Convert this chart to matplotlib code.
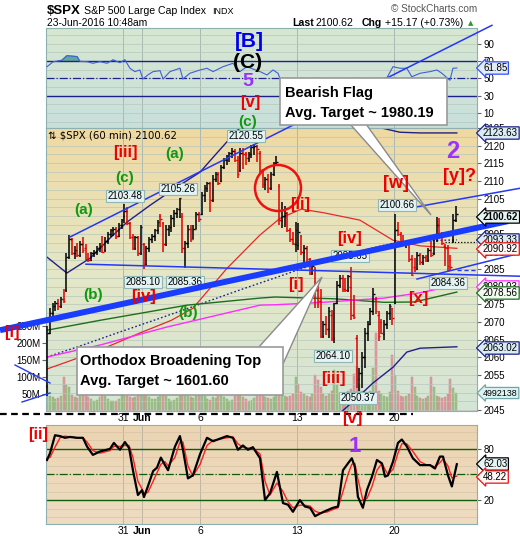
import numpy as np
import matplotlib
matplotlib.use("Agg")
import matplotlib.pyplot as plt
from matplotlib.colors import LinearSegmentedColormap
from matplotlib.lines import Line2D
from matplotlib.patches import Polygon, Rectangle, Ellipse
from matplotlib.ticker import MultipleLocator, FuncFormatter

plt.rcParams["font.family"] = ["Liberation Sans", "DejaVu Sans"]

W, H = 520, 540

# ---- hourly OHLC, 24-May-2016 .. 23-Jun-2016 10:48 (7 bars per session) ----
opens = [2052, 2067, 2072.5, 2074.5, 2075.5, 2074.5, 2076.5,
         2079, 2088.5, 2093.5, 2089.5, 2090.5, 2089, 2092,
         2091, 2088, 2087.5, 2089.5, 2090, 2091, 2091.5,
         2090.5, 2093, 2095, 2096, 2096.5, 2094.5, 2097.5,
         2100, 2101.5, 2098, 2094, 2091, 2094, 2089.5,
         2092, 2086.5, 2091, 2093.5, 2094.5, 2096, 2100,
         2098, 2092, 2096.5, 2097, 2099.5, 2101, 2102,
         2100, 2091, 2092.5, 2096.5, 2093.5, 2096.5, 2100.5,
         2100.5, 2106, 2108, 2109.5, 2104.5, 2110.5, 2112,
         2110, 2114, 2116, 2117, 2117.8, 2118.5, 2116,
         2113, 2118, 2117.5, 2116.5, 2117.5, 2119.5, 2120,
         2118, 2113, 2109, 2110.5, 2108, 2112, 2115,
         2108.5, 2099, 2100, 2101, 2096, 2093.5, 2092,
         2091.8, 2094.5, 2090, 2091, 2088, 2084, 2085,
         2079, 2076, 2066, 2069.5, 2068, 2072, 2065.5,
         2075.5, 2080.5, 2082.5, 2079.5, 2079, 2080, 2072,
         2065.5, 2054, 2055.5, 2060, 2067, 2069.5, 2073,
         2076.5, 2072, 2070, 2066.5, 2069.5, 2072.5, 2074,
         2075.5, 2096, 2095, 2092.5, 2092, 2092.3, 2088,
         2085.5, 2085, 2089, 2087, 2088.5, 2087.5, 2090.5,
         2089.5, 2094, 2097.5, 2095, 2091.5, 2091, 2087.5,
         2093, 2099]
highs = [2069, 2074, 2075.5, 2076, 2076.5, 2077, 2079.5,
         2089.5, 2094.7, 2093.8, 2091.5, 2092.5, 2093, 2094,
         2092, 2089.5, 2090, 2090.5, 2091.5, 2092.5, 2094.3,
         2094, 2095.5, 2096.5, 2097, 2097, 2098, 2099.1,
         2103.5, 2102.5, 2098.5, 2095, 2094.5, 2094.5, 2097.5,
         2092.5, 2091.5, 2094, 2095, 2096.5, 2099, 2100.5,
         2098.5, 2097.5, 2097.5, 2100.3, 2101.8, 2102.3, 2105.3,
         2101, 2093, 2097.5, 2097.5, 2097.5, 2101.3, 2101.3,
         2107, 2108.9, 2109.8, 2109.8, 2111.7, 2112.6, 2112.6,
         2114.5, 2116.4, 2117.3, 2118.3, 2119.2, 2119, 2117,
         2119.2, 2119.2, 2118.3, 2118.3, 2120.2, 2120.55, 2120.2,
         2118.5, 2113.5, 2111, 2112, 2112.5, 2115.5, 2117.2,
         2109, 2104, 2103, 2101.3, 2096.6, 2095.6, 2098.5,
         2098, 2094.7, 2091.8, 2091.5, 2088.1, 2087, 2085.5,
         2081.5, 2079.5, 2070.2, 2071.6, 2074.4, 2073.5, 2075.3,
         2081.5, 2083.4, 2083.4, 2082.5, 2083.4, 2085.65, 2077.7,
         2066.4, 2056.9, 2061.6, 2068.3, 2070.2, 2074, 2079.6,
         2077, 2073, 2070.8, 2070.5, 2073, 2075, 2074,
         2100.66, 2098.5, 2095.6, 2094.6, 2092.8, 2092.8, 2089,
         2088.1, 2090, 2089.5, 2089.1, 2089, 2090.9, 2093,
         2094.6, 2099.7, 2099.4, 2095.6, 2092, 2091.8, 2089,
         2100.5, 2102.8]
lows = [2049, 2066.5, 2071.5, 2073, 2073.5, 2074, 2075.5,
        2078.5, 2088, 2089, 2088, 2088.5, 2088.5, 2089.5,
        2087.5, 2087.1, 2087.3, 2088.5, 2089, 2090, 2089.5,
        2090, 2092, 2094, 2094.5, 2093.5, 2094, 2096.5,
        2098, 2097.5, 2093.5, 2090.5, 2090.5, 2088.7, 2089,
        2085.1, 2086, 2090, 2092.5, 2093, 2095, 2097,
        2090, 2091.5, 2094.5, 2095.5, 2097, 2099.4, 2099.4,
        2089.5, 2085.4, 2091, 2092.8, 2093.5, 2096.5, 2098.4,
        2100.3, 2104.1, 2107, 2101.3, 2104, 2109.8, 2108.8,
        2109.8, 2113.5, 2114.5, 2115.5, 2116.4, 2115.5, 2110.7,
        2112.5, 2113.5, 2114.5, 2115.5, 2116.4, 2117.3, 2115.5,
        2112, 2108, 2107.5, 2106.5, 2107.5, 2111.5, 2114.5,
        2097.5, 2096.6, 2097, 2095.6, 2092.8, 2091.8, 2090,
        2090.5, 2089, 2085.2, 2085.5, 2083.4, 2083.4, 2074,
        2074, 2065.4, 2065.5, 2066.3, 2065.4, 2064.5, 2064.1,
        2075, 2079.6, 2078.6, 2078.6, 2078.6, 2070.5, 2071,
        2051.3, 2050.37, 2051.3, 2057, 2064.5, 2069.2, 2072,
        2072.4, 2064.5, 2066.5, 2065, 2068, 2070.5, 2069.2,
        2075, 2094.5, 2091.8, 2091.8, 2090.9, 2087.1, 2083,
        2084.3, 2084.8, 2086.2, 2086.2, 2087, 2087, 2088.5,
        2089, 2092.8, 2094.7, 2091.8, 2086, 2084.3, 2084.36,
        2092.5, 2098.3]
closes = [2067, 2072.5, 2074.5, 2075.5, 2074.5, 2076.5, 2076,
          2088.5, 2093.5, 2089.5, 2090.5, 2089, 2092, 2090.5,
          2088, 2087.5, 2089.5, 2090, 2091, 2091.5, 2090,
          2093, 2095, 2096, 2096.5, 2094.5, 2097.5, 2099,
          2101.5, 2098, 2094, 2091, 2094, 2089.5, 2097,
          2086.5, 2091, 2093.5, 2094.5, 2096, 2098.5, 2099.3,
          2092, 2096.5, 2097, 2099.5, 2101, 2102, 2105.2,
          2091, 2092.5, 2096.5, 2093.5, 2096.5, 2100.5, 2099.1,
          2106, 2108, 2109.5, 2104.5, 2110.5, 2112, 2109.4,
          2114, 2116, 2117, 2117.8, 2118.5, 2116, 2112.1,
          2118, 2117.5, 2116.5, 2117.5, 2119.5, 2120, 2119.1,
          2113, 2109, 2110.5, 2108, 2112, 2115, 2115.5,
          2099, 2100, 2101, 2096, 2093.5, 2092.5, 2096,
          2095.5, 2090, 2091, 2088, 2084, 2086, 2079,
          2076, 2066, 2069.5, 2068, 2073, 2065.5, 2075.3,
          2080.5, 2082.5, 2079.5, 2079, 2083, 2072, 2071.5,
          2054, 2055.5, 2060, 2067, 2069.5, 2073, 2078,
          2073, 2066, 2067, 2069.5, 2072.5, 2074.5, 2071.2,
          2096, 2095, 2092.5, 2092, 2092.3, 2088, 2083.3,
          2085, 2089, 2087, 2088.5, 2087.5, 2090.5, 2088.9,
          2094, 2097.5, 2095, 2092.5, 2091, 2086, 2085.5,
          2099, 2100.62]
volume_m = [72, 45, 42, 35, 38, 45, 100,
            75, 72, 48, 40, 38, 45, 80,
            55, 40, 35, 30, 32, 40, 70,
            45, 35, 30, 28, 30, 35, 65,
            70, 45, 42, 38, 40, 50, 95,
            75, 50, 40, 35, 35, 40, 80,
            65, 45, 35, 30, 32, 38, 80,
            95, 70, 45, 40, 38, 45, 85,
            60, 45, 35, 32, 40, 38, 80,
            60, 40, 35, 30, 32, 45, 90,
            55, 40, 35, 30, 32, 38, 80,
            65, 50, 40, 38, 35, 40, 85,
            90, 60, 45, 40, 45, 50, 100,
            80, 55, 50, 45, 40, 50, 105,
            90, 70, 50, 45, 50, 60, 120,
            75, 50, 45, 40, 60, 65, 110,
            130, 80, 60, 55, 45, 60, 125,
            230, 60, 50, 45, 40, 55, 165,
            105, 60, 45, 40, 45, 50, 100,
            70, 45, 38, 35, 38, 45, 100,
            70, 45, 40, 38, 42, 50, 95,
            68, 52]

# session boundaries that carry a date label
label_days = [4, 5, 8, 13, 18]
label_text = ["31", "Jun", "6", "13", "20"]

# overlays (bar position, value)
bb_up_x = [0, 7.2, 15.6, 22.8, 28.9, 37.3, 46.3, 55.4, 60.8, 67.3, 69.8, 80, 100, 115, 121.6, 127.7, 135, 148.3]
bb_up_v = [2088.4, 2083.9, 2088.1, 2093.8, 2098.3, 2103.1, 2107.9, 2112.5, 2117.3, 2123.0, 2125.0,
           2130, 2133, 2130, 2124.9, 2123.8, 2123.6, 2123.6]
bb_mid_x = [0, 11.9, 26.4, 40.9, 55.4, 69.8, 84.3, 91.5, 109.6, 127.7, 148.3]
bb_mid_v = [2060.1, 2063.2, 2067.2, 2071.1, 2075.1, 2079.1, 2083.0, 2085.0, 2089.5, 2092.8, 2093.3]
bb_lo_x = [100, 112.2, 117.9, 125.2, 130.2, 135, 148.3]
bb_lo_v = [2040.0, 2048.5, 2052.7, 2057.2, 2061.5, 2062.6, 2063.0]
red_ma_x = [0, 7.2, 19.2, 33.6, 45, 52.8, 65.1, 77.1, 84.3, 92, 100, 113.2, 125.2, 135, 148.3]
red_ma_v = [2056.7, 2058.7, 2062.1, 2066.9, 2070.5, 2073.9, 2085.2, 2094.7, 2099.4, 2102.0, 2101.0,
            2098.9, 2093.2, 2091.6, 2090.9]
green_ma_x = [0, 19.2, 50.7, 77.1, 82.5, 104, 122, 133, 148.3]
green_ma_v = [2067.7, 2070.5, 2074.8, 2076.8, 2077.1, 2076.6, 2075.6, 2075.7, 2078.5]
pink_ma_x = [0, 19.2, 43.4, 77.1, 82.5, 100, 122, 135, 148.3]
pink_ma_v = [2060.1, 2063.5, 2068.6, 2074.8, 2074.9, 2075.6, 2076.8, 2078.3, 2080.5]

rsi_x = [0, 2.2, 5.4, 7.2, 10.9, 11.9, 14.5, 16.6, 19.2, 21.7, 23.9, 26.4, 28.2, 30.0, 31.8, 33.6,
         34.7, 36.5, 38.4, 40.9, 42.0, 44.5, 48.1, 49.2, 51.7, 55.4, 57.9, 60.1, 63.7, 67.3, 69.8,
         72.3, 77.1, 79.6, 81.8, 83.6, 85, 88, 91, 94, 97, 100, 103, 106, 109, 112, 115, 118, 121,
         123, 125.2, 127.7, 130.2, 132, 135, 138.6, 141.1, 142.9, 145.8, 146.9, 148.3]
rsi_v = [63.4, 69.0, 70.8, 76.1, 75.0, 69.5, 69.2, 67.3, 69.2, 67.3, 71.2, 68.0, 71.2, 61.6, 57.7,
         59.6, 49.2, 53.9, 57.7, 58.8, 49.2, 57.7, 61.6, 49.2, 55.8, 59.6, 61.6, 57.7, 63.4, 67.3,
         57.7, 63.4, 57.7, 53.9, 59.6, 55.8, 44, 40, 45, 38, 33, 37, 30, 41, 45, 31, 38, 48, 49,
         50.5, 63.4, 61.6, 61.6, 51.8, 55.8, 57.7, 59.6, 55.8, 47.7, 61.6, 61.85]

sto_x = [0, 1.1, 2.9, 4.7, 6.5, 8.3, 10.9, 13.0, 14.5, 16.6, 19.2, 22.8, 24.2, 26.4, 28.2, 29.7,
         31.1, 32.9, 34.4, 35.1, 36.5, 38.4, 39.8, 41.2, 42.7, 43.8, 46.3, 48.1, 49.2, 51.0, 52.8,
         55.4, 57.9, 60.1, 65.1, 67.3, 69.1, 70.9, 72.7, 74.5, 77.1, 78.9, 80.7, 83.2, 85.4, 87.2,
         89.0, 91.5, 93.3, 95.2, 97.0, 98.8, 101.3, 103.5, 105.3, 107.1, 108.9, 110.3, 111.4, 112.5,
         114.3, 115.8, 117.6, 119.4, 121.2, 122.3, 123.4, 125.2, 127.0, 128.4, 130.2, 132.4, 135.0,
         137.5, 138.6, 140.4, 142.2, 143.3, 145.1, 146.5, 148.3]
sto_k = [67, 75, 96, 95, 93, 94, 93, 93, 82.7, 73, 77, 80, 87, 79, 88, 81, 55, 26, 31.6, 23.6,
         36, 54, 58, 69.8, 61, 55, 82.7, 95, 79, 45.5, 49, 74, 93, 89, 95, 93, 79, 84, 79, 82,
         69, 20, 28, 53, 16.5, 14.6, 6.3, 20, 12.5, 11, 1.2, 4.3, 8, 11, 12.5, 55, 63, 69, 59, 24,
         11, 32, 47.5, 67, 63, 47.5, 49, 65, 87, 91, 83, 69, 61, 61, 61, 57, 71, 71, 49, 36, 62.03]
sto_d = [69, 70, 82, 93, 95, 94, 93, 93, 88, 78, 75, 78, 83, 83, 84, 84, 70, 42, 33, 28,
         29, 42, 52, 62, 65, 60, 70, 88, 88, 60, 48, 62, 84, 90, 93, 94, 86, 82, 81, 81,
         74, 42, 26, 40, 30, 18, 11, 14, 14, 13, 7, 5, 6, 9, 11, 30, 50, 62, 63, 45,
         20, 22, 36, 55, 63, 56, 50, 56, 75, 86, 86, 77, 65, 61, 61, 59, 64, 68, 60, 46, 48.22]

# analyst trendlines (bar position, price)
thick_line = ([-17.0, 166.8], [2067.7, 2098.6])
channel_top = ([8.3, 161.0], [2094.1, 2154.1])
lows_line = ([14.1, 171.0], [2086.4, 2083.0])
flag_top = ([127.0, 171.0], [2101.7, 2107.9])
flag_bottom = ([133.9, 171.1], [2082.2, 2089.5])

BAR_PER_DAY = 7
XMIN, XMAX = -0.36, 155.6
RED = "#ee0000"
GREEN = "#119911"
PURPLE = "#9b30ff"
NAVY = "#20208a"
BLUE = "#2438f5"
GRID = "#b9c6bb"
EDGE = "#8fb0b0"
TICK_FS = 7


def fxy(px, py):
    return px / W, 1 - py / H


def rect(top, bottom):
    return [46 / W, 1 - bottom / H, 431 / W, (bottom - top) / H]


def gradient(axis, colors):
    cmap = LinearSegmentedColormap.from_list("bg", colors)
    axis.imshow(np.linspace(1, 0, 128).reshape(-1, 1), cmap=cmap, aspect="auto",
                extent=(0, 1, 0, 1), transform=axis.transAxes, zorder=0)


def frame(axis):
    for s in axis.spines.values():
        s.set_color(EDGE)
        s.set_linewidth(0.8)


fig = plt.figure(figsize=(W / 100, H / 100), dpi=100)
fig.patch.set_facecolor("white")

opens_a = np.array(opens)
highs_a = np.array(highs)
lows_a = np.array(lows)
closes_a = np.array(closes)
xb = np.arange(len(closes))
grid_x = [d * BAR_PER_DAY - 0.5 for d in label_days]

# ---- top panel (RSI) ----
ax_rsi = fig.add_axes(rect(28, 128), zorder=1)
gradient(ax_rsi, ["#c8e0dc", "#d7e7d1"])
rsi_arr = np.array(rsi_v)
ax_rsi.fill_between(rsi_x, 70, rsi_arr, where=rsi_arr > 70, interpolate=True, color="#5fa89b", zorder=2)
ax_rsi.plot(rsi_x, rsi_v, color="#3f5fd8", lw=0.8, zorder=3)
ax_rsi.axhline(70, color=NAVY, lw=1, zorder=2)
ax_rsi.axhline(30, color=NAVY, lw=1, zorder=2)
ax_rsi.axhline(50, color=NAVY, lw=0.9, ls="-.", zorder=2)
ax_rsi.set_xlim(XMIN, XMAX)
ax_rsi.set_ylim(-7.3, 108)
ax_rsi.yaxis.tick_right()
ax_rsi.set_yticks([10, 30, 50, 70, 90])
ax_rsi.yaxis.set_minor_locator(MultipleLocator(10))
ax_rsi.set_xticks(grid_x)
ax_rsi.set_xticklabels([])
ax_rsi.tick_params(axis="x", length=0)
ax_rsi.tick_params(axis="y", which="major", length=3, labelsize=TICK_FS, pad=1.5, color="#666")
ax_rsi.tick_params(axis="y", which="minor", length=0)
ax_rsi.grid(True, axis="y", which="both", color=GRID, lw=0.5)
ax_rsi.grid(True, axis="x", color="#a9b9b4", lw=0.7)
ax_rsi.set_axisbelow(True)
frame(ax_rsi)

# ---- main panel: volume behind, price in front ----
ax_vol = fig.add_axes(rect(128, 411), zorder=1)
gradient(ax_vol, ["#d4e5d6", "#e5e7c6", "#f0d9a2"])
prev_close = np.r_[opens_a[0], closes_a[:-1]]
vol_up = closes_a >= prev_close
ax_vol.bar(xb, np.array(volume_m) * 1e6, width=0.72,
           color=np.where(vol_up, "#a3c28c", "#dc9ea2"),
           edgecolor=np.where(vol_up, "#86a872", "#c47f84"), lw=0.3, zorder=2)
ax_vol.set_xlim(XMIN, XMAX)
ax_vol.set_ylim(0, 832e6)
ax_vol.set_yticks([50e6, 100e6, 150e6, 200e6, 250e6])
ax_vol.yaxis.set_major_formatter(FuncFormatter(lambda v, _p: f"{v / 1e6:.0f}M"))
ax_vol.tick_params(axis="y", length=3, labelsize=TICK_FS, pad=1, color="#666")
ax_vol.set_xticks([])
for s in ax_vol.spines.values():
    s.set_visible(False)

ax = fig.add_axes(rect(128, 411), zorder=2)
ax.set_facecolor("none")
ax.set_xlim(XMIN, XMAX)
ax.set_ylim(2044.8, 2125.0)
ax.yaxis.tick_right()
ax.yaxis.set_major_locator(MultipleLocator(5))
ax.yaxis.set_minor_locator(MultipleLocator(2.5))
ax.tick_params(axis="y", which="major", length=3, labelsize=TICK_FS, pad=1.5, color="#666")
ax.tick_params(axis="y", which="minor", length=0)
ax.set_xticks(grid_x)
ax.set_xticklabels([])
ax.tick_params(axis="x", length=0)
ax.grid(True, axis="y", which="both", color=GRID, lw=0.5)
ax.grid(True, axis="x", color="#a9b9b4", lw=0.7)
ax.set_axisbelow(True)
frame(ax)

ax.plot(bb_up_x, bb_up_v, color=NAVY, lw=1.0, zorder=2)
ax.plot(bb_lo_x, bb_lo_v, color=NAVY, lw=1.0, zorder=2)
ax.plot(bb_mid_x, bb_mid_v, color=NAVY, lw=1.0, ls=(0, (1.2, 1.6)), zorder=2)
ax.plot(red_ma_x, red_ma_v, color="#e52a2a", lw=0.9, zorder=2)
ax.plot(green_ma_x, green_ma_v, color="#1d6e1d", lw=1.0, zorder=2)
ax.plot(pink_ma_x, pink_ma_v, color="#ff2cff", lw=1.0, zorder=2)

bar_col = np.where(closes_a >= opens_a, "black", "#e00000")
ax.vlines(xb, lows_a, highs_a, colors=bar_col, lw=1.1, zorder=3)
ax.hlines(opens_a, xb - 0.55, xb, colors=bar_col, lw=1.0, zorder=3)
ax.hlines(closes_a, xb, xb + 0.55, colors=bar_col, lw=1.0, zorder=3)

for xs, ys in (channel_top, lows_line, flag_top, flag_bottom):
    ax.plot(xs, ys, color=BLUE, lw=1.1, zorder=4, clip_on=False)
ax.plot([148.3, XMAX], [2084.8, 2084.8], color=BLUE, lw=1.0, ls=(0, (3, 2)), zorder=4)
ax.plot([144, XMAX], [2092.6, 2092.6], color="black", lw=0.9, ls=(0, (1, 1.5)), zorder=4)

# price pivot labels
pivots = [(246, 136, "2120.55"), (125, 196, "2103.48"), (178, 189, "2105.26"),
          (143, 282, "2085.10"), (185, 282, "2085.36"), (350, 256, "2085.65"),
          (333, 356, "2064.10"), (358, 398, "2050.37"), (397, 205, "2100.66"),
          (448, 283, "2084.36")]
for px, py, s in pivots:
    ax.text(*fxy(px, py), s, transform=fig.transFigure, ha="center", va="center", fontsize=7,
            zorder=4.5, bbox=dict(boxstyle="square,pad=0.15", fc="#e3f3f3", ec="#8fb5b5", lw=0.8))

ax.plot(*thick_line, color="#1a3cff", lw=4.3, zorder=5, clip_on=False, solid_capstyle="butt")

# ---- bottom panel (stochastics) ----
ax_sto = fig.add_axes(rect(425, 524), zorder=1)
gradient(ax_sto, ["#efdcc1", "#ebd4b2"])
ax_sto.axhline(80, color="#0b5e0b", lw=1, zorder=2)
ax_sto.axhline(20, color="#0b5e0b", lw=1, zorder=2)
ax_sto.axhline(50, color="#0b5e0b", lw=0.9, ls="-.", zorder=2)
ax_sto.plot(sto_x, sto_d, color="#ff2020", lw=1.0, zorder=3)
ax_sto.plot(sto_x, sto_k, color="black", lw=1.6, zorder=4)
ax_sto.set_xlim(XMIN, XMAX)
ax_sto.set_ylim(-8, 108)
ax_sto.yaxis.tick_right()
ax_sto.set_yticks([20, 50, 80])
ax_sto.yaxis.set_minor_locator(MultipleLocator(10))
ax_sto.tick_params(axis="y", which="major", length=3, labelsize=TICK_FS, pad=1.5, color="#666")
ax_sto.tick_params(axis="y", which="minor", length=0)
ax_sto.set_xticks(grid_x, label_text)
ax_sto.tick_params(axis="x", length=0, labelsize=7.5, pad=1.5, top=True, labeltop=True)
for i, t in enumerate(ax_sto.xaxis.get_major_ticks()):
    if label_text[i] == "Jun":
        t.label1.set_fontweight("bold")
        t.label2.set_fontweight("bold")
ax_sto.grid(True, axis="y", which="both", color="#d6c4a6", lw=0.5)
ax_sto.grid(True, axis="x", color="#bdb6a4", lw=0.7)
ax_sto.set_axisbelow(True)
frame(ax_sto)

# ---- figure level annotations ----
T = fig.transFigure

fig.text(*fxy(47, 11), "$SPX", fontsize=9.5, fontweight="bold", va="center")
fig.text(*fxy(84, 11), "S&P 500 Large Cap Index", fontsize=7.6, va="center")
fig.text(*fxy(212, 11), "INDX", fontsize=6.5, va="center")
fig.text(*fxy(47, 23), "23-Jun-2016 10:48am", fontsize=7.4, va="center")
fig.text(*fxy(477, 9), "© StockCharts.com", fontsize=7.2, color="#555555", va="center", ha="right")
fig.text(*fxy(292, 23), "Last", fontsize=7.6, fontweight="bold", va="center")
fig.text(*fxy(316, 23), "2100.62", fontsize=7.6, va="center")
fig.text(*fxy(362, 23), "Chg", fontsize=7.6, fontweight="bold", va="center")
fig.text(*fxy(385, 23), "+15.17 (+0.73%)", fontsize=7.6, va="center")
fig.text(*fxy(471, 23), "▲", fontsize=5, color="#2a9a2a", va="center", ha="center",
         family=["DejaVu Sans"])

fig.text(*fxy(48, 135), "⇅ $SPX (60 min) 2100.62", fontsize=7.3, va="center",
         family=["DejaVu Sans"], zorder=6)

waves = [(249, 42, "[B]", "#0000ee", 15), (248, 63, "(C)", "black", 15),
         (248, 82, "5", PURPLE, 14), (250, 102, "[v]", RED, 12), (248, 122, "(c)", GREEN, 11),
         (125, 153, "[iii]", RED, 12), (175, 154, "(a)", GREEN, 11), (125, 178, "(c)", GREEN, 11),
         (84, 210, "(a)", GREEN, 11), (93, 295, "(b)", GREEN, 11), (143, 297, "[iv]", RED, 12),
         (188, 313, "(b)", GREEN, 11), (12, 333, "[i]", RED, 12), (300, 205, "[ii]", RED, 12),
         (349, 238, "[iv]", RED, 12), (296, 285, "[i]", RED, 12), (333, 378, "[iii]", RED, 12),
         (352, 419, "[v]", RED, 12), (355, 447, "1", PURPLE, 16), (396, 184, "[w]", RED, 13),
         (453, 152, "2", PURPLE, 17), (459, 177, "[y]?", RED, 13), (418, 299, "[x]", RED, 12),
         (38, 435, "[ii]", RED, 12)]
for px, py, s, c, fs in waves:
    fig.text(*fxy(px, py), s, color=c, fontsize=fs, fontweight="bold", ha="center", va="center",
             zorder=6)

fig.add_artist(Ellipse(fxy(278, 188), 46 / W, 46 / H, transform=T, fill=False,
                       ec="#ee1111", lw=1.8, zorder=6))

# callouts
fig.add_artist(Polygon([fxy(350, 124), fxy(366, 124), fxy(431, 215)], closed=True, transform=T,
                       fc="white", ec="#8a8a8a", lw=1.0, zorder=6))
fig.add_artist(Rectangle(fxy(280, 125), 167 / W, 47 / H, transform=T, fc="white", ec="#9a9a9a",
                         lw=1.2, zorder=6))
fig.text(*fxy(285, 93), "Bearish Flag", fontsize=10.5, fontweight="bold", va="center", zorder=7)
fig.text(*fxy(285, 113), "Avg. Target ~ 1980.19", fontsize=10.5, fontweight="bold", va="center",
         zorder=7)

fig.add_artist(Polygon([fxy(258, 348), fxy(283, 364), fxy(322, 277)], closed=True, transform=T,
                       fc="white", ec="#8a8a8a", lw=1.0, zorder=6))
fig.add_artist(Rectangle(fxy(77, 395), 206 / W, 48 / H, transform=T, fc="white", ec="#9a9a9a",
                         lw=1.2, zorder=6))
fig.text(*fxy(80, 361), "Orthodox Broadening Top", fontsize=10.5, fontweight="bold", va="center",
         zorder=7)
fig.text(*fxy(80, 381), "Avg. Target ~ 1601.60", fontsize=10.5, fontweight="bold", va="center",
         zorder=7)

# dashed separator and stray line ends on the left
fig.add_artist(Line2D([0, 413 / W], [1 - 414 / H] * 2, transform=T, color="black", lw=1.6,
                      ls=(0, (3, 2)), zorder=6))
fig.add_artist(Line2D([15 / W, 50 / W], [1 - 365 / H, 1 - 383 / H], transform=T, color=BLUE,
                      lw=1.0, zorder=6))
fig.add_artist(Line2D([22 / W, 50 / W], [1 - 402 / H, 1 - 393 / H], transform=T, color=BLUE,
                      lw=1.0, zorder=6))

# value flags on the right
flags = [(68, "61.85", "#3050ff", "#e2ecf6", False, 7), (133, "2123.63", NAVY, "#d9ecf4", False, 7),
         (217, "2100.62", "black", "#e6f4f4", True, 7), (240, "2093.33", NAVY, "#d9ecf4", False, 7),
         (249, "2090.92", "#ee1111", "#fff6f6", False, 7), (287, "2080.03", "#ff30ff", "#fff4ff", False, 7),
         (293, "2078.56", "#1d6e1d", "#f2fbf0", False, 7), (348, "2063.02", NAVY, "#d9ecf4", False, 7),
         (393, "4992138", "#6fa6a6", "#dcf2f2", False, 6.4), (464, "62.03", "black", "#e6f4f4", False, 7),
         (477, "48.22", "#ee1111", "#fff6f6", False, 7)]
for py, s, ec, fc, bold, fs in flags:
    fig.text(*fxy(483, py), s, fontsize=fs, fontweight="bold" if bold else "normal",
             ha="left", va="center", zorder=8,
             bbox=dict(boxstyle="larrow,pad=0.12", fc=fc, ec=ec, lw=0.9))

fig.savefig("out.png", dpi=100, facecolor="white")
